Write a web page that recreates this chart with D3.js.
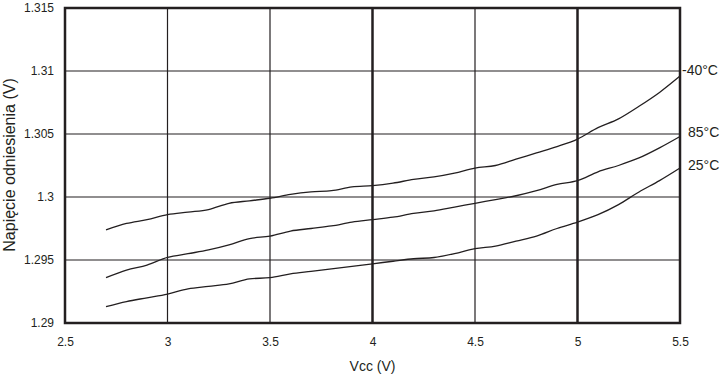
<!DOCTYPE html>
<html>
<head>
<meta charset="utf-8">
<script src="https://cdn.jsdelivr.net/npm/d3@7"></script>
<style>
  body { margin: 0; background: white; }
  text { font-family: "Liberation Sans", Arial, sans-serif; fill: #231f20; }
</style>
</head>
<body>
<div id="chart"></div>
<script>
var width = 726;
var height = 376;

var vcc = [2.7, 2.8, 2.9, 3.0, 3.1, 3.2, 3.3, 3.4, 3.5, 3.6, 3.7, 3.8, 3.9, 4.0,
           4.1, 4.2, 4.3, 4.4, 4.5, 4.6, 4.7, 4.8, 4.9, 5.0, 5.1, 5.2, 5.3, 5.4, 5.5];

var tempMinus40 = [1.2974, 1.2979, 1.2982, 1.2986, 1.2988, 1.2990, 1.2995, 1.2997, 1.2999, 1.3002,
                   1.3004, 1.3005, 1.3008, 1.3009, 1.3011, 1.3014, 1.3016, 1.3019, 1.3023, 1.3025,
                   1.3030, 1.3035, 1.3040, 1.3046, 1.3055, 1.3062, 1.3072, 1.3083, 1.3096];
var temp85 = [1.2936, 1.2942, 1.2946, 1.2952, 1.2955, 1.2958, 1.2962, 1.2967, 1.2969, 1.2973,
              1.2975, 1.2977, 1.2980, 1.2982, 1.2984, 1.2987, 1.2989, 1.2992, 1.2995, 1.2998,
              1.3001, 1.3005, 1.3010, 1.3013, 1.3020, 1.3025, 1.3031, 1.3039, 1.3048];
var temp25 = [1.2913, 1.2917, 1.2920, 1.2923, 1.2927, 1.2929, 1.2931, 1.2935, 1.2936, 1.2939,
              1.2941, 1.2943, 1.2945, 1.2947, 1.2949, 1.2951, 1.2952, 1.2955, 1.2959, 1.2961,
              1.2965, 1.2969, 1.2975, 1.2980, 1.2986, 1.2994, 1.3004, 1.3013, 1.3023];

var seriesNames = ["-40°C", "85°C", "25°C"];
var seriesValues = [tempMinus40, temp85, temp25];

var xTicks = [2.5, 3, 3.5, 4, 4.5, 5, 5.5];
var xTickLabels = ["2.5", "3", "3.5", "4", "4.5", "5", "5.5"];
var yTicks = [1.29, 1.295, 1.3, 1.305, 1.31, 1.315];
var yTickLabels = ["1.29", "1.295", "1.3", "1.305", "1.31", "1.315"];
var thickX = [4, 5];

var plotLeft = 65, plotRight = 680, plotTop = 8, plotBottom = 323;
var ink = "#231f20";

var svg = d3.select("#chart").append("svg")
    .attr("width", width)
    .attr("height", height)

svg.append("rect")
    .attr("width", width)
    .attr("height", height)
    .attr("fill", "white")

var x = d3.scaleLinear().domain([2.5, 5.5]).range([plotLeft, plotRight])
var y = d3.scaleLinear().domain([1.29, 1.315]).range([plotBottom, plotTop])

// grid
svg.selectAll(".vgrid")
    .data(xTicks.slice(1, -1))
    .enter().append("line")
    .attr("class", "vgrid")
    .attr("x1", function(d) { return x(d); })
    .attr("x2", function(d) { return x(d); })
    .attr("y1", plotTop)
    .attr("y2", plotBottom)
    .attr("stroke", ink)
    .attr("stroke-width", function(d) { return thickX.indexOf(d) >= 0 ? 2.5 : 1.2; })

svg.selectAll(".hgrid")
    .data(yTicks.slice(1, -1))
    .enter().append("line")
    .attr("class", "hgrid")
    .attr("x1", plotLeft)
    .attr("x2", plotRight)
    .attr("y1", function(d) { return y(d); })
    .attr("y2", function(d) { return y(d); })
    .attr("stroke", ink)
    .attr("stroke-width", 1.2)

svg.append("rect")
    .attr("x", plotLeft)
    .attr("y", plotTop)
    .attr("width", plotRight - plotLeft)
    .attr("height", plotBottom - plotTop)
    .attr("fill", "none")
    .attr("stroke", ink)
    .attr("stroke-width", 2.5)

// axes (labels only)
svg.append("g")
    .attr("transform", "translate(0," + plotBottom + ")")
    .call(d3.axisBottom(x).tickValues(xTicks).tickSize(0).tickPadding(14)
        .tickFormat(function(d, i) { return xTickLabels[i]; }))
svg.append("g")
    .attr("transform", "translate(" + plotLeft + ",0)")
    .call(d3.axisLeft(y).tickValues(yTicks).tickSize(0).tickPadding(11)
        .tickFormat(function(d, i) { return yTickLabels[i]; }))

svg.selectAll(".domain").remove()
svg.selectAll(".tick text")
    .attr("font-family", "Liberation Sans, Arial, sans-serif")
    .attr("font-size", 12)
    .attr("fill", ink)

// curves
var line = d3.line()
    .x(function(d, i) { return x(vcc[i]); })
    .y(function(d) { return y(d); })
    .curve(d3.curveMonotoneX)

svg.selectAll(".curve")
    .data(seriesValues)
    .enter().append("path")
    .attr("class", "curve")
    .attr("d", line)
    .attr("fill", "none")
    .attr("stroke", ink)
    .attr("stroke-width", 1.3)

var labelPos = [[682, 75], [688, 137], [688, 170]];
svg.selectAll(".serieslabel")
    .data(seriesNames)
    .enter().append("text")
    .attr("class", "serieslabel")
    .attr("x", function(d, i) { return labelPos[i][0]; })
    .attr("y", function(d, i) { return labelPos[i][1]; })
    .attr("font-size", 14)
    .text(function(d) { return d; })

svg.append("text")
    .attr("x", x(4))
    .attr("y", 371)
    .attr("text-anchor", "middle")
    .attr("font-size", 14)
    .text("Vcc (V)")

svg.append("text")
    .attr("transform", "translate(15,165) rotate(-90)")
    .attr("text-anchor", "middle")
    .attr("font-size", 16)
    .text("Napięcie odniesienia (V)")
</script>
</body>
</html>
